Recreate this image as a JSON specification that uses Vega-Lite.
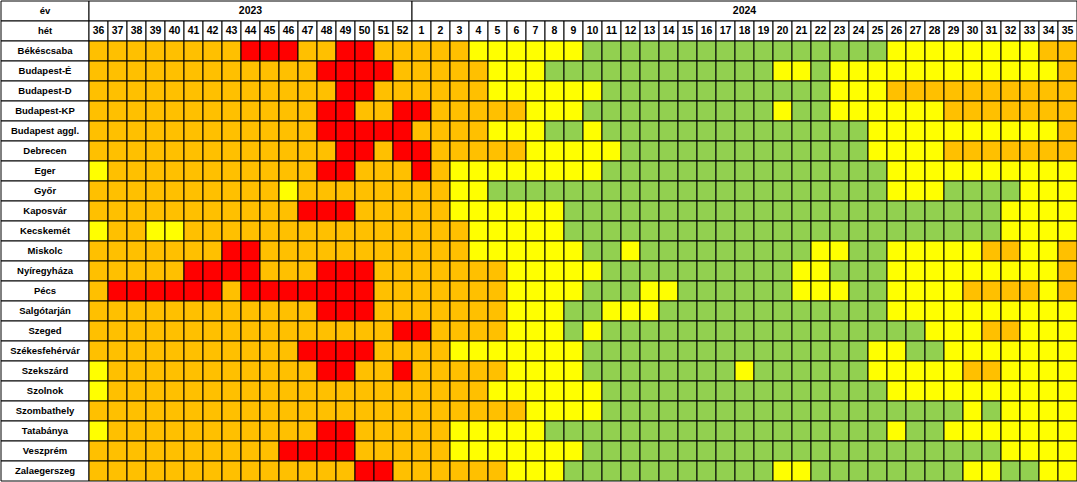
{
"$schema":"https://vega.github.io/schema/vega-lite/v6.json",
"padding":0,"spacing":0,"bounds":"flush",
"config":{"view":{"stroke":null},"font":"Liberation Sans","concat":{"spacing":0}},
"datasets":{
"rows":[{"r":"év"},{"r":"hét"},{"r":"Békéscsaba"},{"r":"Budapest-É"},{"r":"Budapest-D"},{"r":"Budapest-KP"},{"r":"Budapest aggl."},{"r":"Debrecen"},{"r":"Eger"},{"r":"Győr"},{"r":"Kaposvár"},{"r":"Kecskemét"},{"r":"Miskolc"},{"r":"Nyíregyháza"},{"r":"Pécs"},{"r":"Salgótarján"},{"r":"Szeged"},{"r":"Székesfehérvár"},{"r":"Szekszárd"},{"r":"Szolnok"},{"r":"Szombathely"},{"r":"Tatabánya"},{"r":"Veszprém"},{"r":"Zalaegerszeg"}],
"years":[{"yr":"2023","from":"36","to":"52","mid":"44","r":"év"},{"yr":"2024","from":"1","to":"35","mid":"18","r":"év"}],
"weeks":[{"w":"36","r":"hét"},{"w":"37","r":"hét"},{"w":"38","r":"hét"},{"w":"39","r":"hét"},{"w":"40","r":"hét"},{"w":"41","r":"hét"},{"w":"42","r":"hét"},{"w":"43","r":"hét"},{"w":"44","r":"hét"},{"w":"45","r":"hét"},{"w":"46","r":"hét"},{"w":"47","r":"hét"},{"w":"48","r":"hét"},{"w":"49","r":"hét"},{"w":"50","r":"hét"},{"w":"51","r":"hét"},{"w":"52","r":"hét"},{"w":"1","r":"hét"},{"w":"2","r":"hét"},{"w":"3","r":"hét"},{"w":"4","r":"hét"},{"w":"5","r":"hét"},{"w":"6","r":"hét"},{"w":"7","r":"hét"},{"w":"8","r":"hét"},{"w":"9","r":"hét"},{"w":"10","r":"hét"},{"w":"11","r":"hét"},{"w":"12","r":"hét"},{"w":"13","r":"hét"},{"w":"14","r":"hét"},{"w":"15","r":"hét"},{"w":"16","r":"hét"},{"w":"17","r":"hét"},{"w":"18","r":"hét"},{"w":"19","r":"hét"},{"w":"20","r":"hét"},{"w":"21","r":"hét"},{"w":"22","r":"hét"},{"w":"23","r":"hét"},{"w":"24","r":"hét"},{"w":"25","r":"hét"},{"w":"26","r":"hét"},{"w":"27","r":"hét"},{"w":"28","r":"hét"},{"w":"29","r":"hét"},{"w":"30","r":"hét"},{"w":"31","r":"hét"},{"w":"32","r":"hét"},{"w":"33","r":"hét"},{"w":"34","r":"hét"},{"w":"35","r":"hét"}],
"cells":[
{"c":"Békéscsaba","w":"36","s":"O"},{"c":"Békéscsaba","w":"37","s":"O"},{"c":"Békéscsaba","w":"38","s":"O"},{"c":"Békéscsaba","w":"39","s":"O"},{"c":"Békéscsaba","w":"40","s":"O"},{"c":"Békéscsaba","w":"41","s":"O"},{"c":"Békéscsaba","w":"42","s":"O"},{"c":"Békéscsaba","w":"43","s":"O"},{"c":"Békéscsaba","w":"44","s":"R"},{"c":"Békéscsaba","w":"45","s":"R"},{"c":"Békéscsaba","w":"46","s":"R"},{"c":"Békéscsaba","w":"47","s":"O"},{"c":"Békéscsaba","w":"48","s":"O"},{"c":"Békéscsaba","w":"49","s":"R"},{"c":"Békéscsaba","w":"50","s":"R"},{"c":"Békéscsaba","w":"51","s":"O"},{"c":"Békéscsaba","w":"52","s":"O"},{"c":"Békéscsaba","w":"1","s":"O"},{"c":"Békéscsaba","w":"2","s":"O"},{"c":"Békéscsaba","w":"3","s":"O"},{"c":"Békéscsaba","w":"4","s":"Y"},{"c":"Békéscsaba","w":"5","s":"Y"},{"c":"Békéscsaba","w":"6","s":"Y"},{"c":"Békéscsaba","w":"7","s":"Y"},{"c":"Békéscsaba","w":"8","s":"Y"},{"c":"Békéscsaba","w":"9","s":"Y"},{"c":"Békéscsaba","w":"10","s":"G"},{"c":"Békéscsaba","w":"11","s":"G"},{"c":"Békéscsaba","w":"12","s":"G"},{"c":"Békéscsaba","w":"13","s":"G"},{"c":"Békéscsaba","w":"14","s":"G"},{"c":"Békéscsaba","w":"15","s":"G"},{"c":"Békéscsaba","w":"16","s":"G"},{"c":"Békéscsaba","w":"17","s":"G"},{"c":"Békéscsaba","w":"18","s":"G"},{"c":"Békéscsaba","w":"19","s":"G"},{"c":"Békéscsaba","w":"20","s":"G"},{"c":"Békéscsaba","w":"21","s":"G"},{"c":"Békéscsaba","w":"22","s":"G"},{"c":"Békéscsaba","w":"23","s":"G"},{"c":"Békéscsaba","w":"24","s":"G"},{"c":"Békéscsaba","w":"25","s":"G"},{"c":"Békéscsaba","w":"26","s":"Y"},{"c":"Békéscsaba","w":"27","s":"Y"},{"c":"Békéscsaba","w":"28","s":"Y"},{"c":"Békéscsaba","w":"29","s":"Y"},{"c":"Békéscsaba","w":"30","s":"Y"},{"c":"Békéscsaba","w":"31","s":"Y"},{"c":"Békéscsaba","w":"32","s":"Y"},{"c":"Békéscsaba","w":"33","s":"Y"},{"c":"Békéscsaba","w":"34","s":"O"},{"c":"Békéscsaba","w":"35","s":"O"},
{"c":"Budapest-É","w":"36","s":"O"},{"c":"Budapest-É","w":"37","s":"O"},{"c":"Budapest-É","w":"38","s":"O"},{"c":"Budapest-É","w":"39","s":"O"},{"c":"Budapest-É","w":"40","s":"O"},{"c":"Budapest-É","w":"41","s":"O"},{"c":"Budapest-É","w":"42","s":"O"},{"c":"Budapest-É","w":"43","s":"O"},{"c":"Budapest-É","w":"44","s":"O"},{"c":"Budapest-É","w":"45","s":"O"},{"c":"Budapest-É","w":"46","s":"O"},{"c":"Budapest-É","w":"47","s":"O"},{"c":"Budapest-É","w":"48","s":"R"},{"c":"Budapest-É","w":"49","s":"R"},{"c":"Budapest-É","w":"50","s":"R"},{"c":"Budapest-É","w":"51","s":"R"},{"c":"Budapest-É","w":"52","s":"O"},{"c":"Budapest-É","w":"1","s":"O"},{"c":"Budapest-É","w":"2","s":"O"},{"c":"Budapest-É","w":"3","s":"O"},{"c":"Budapest-É","w":"4","s":"O"},{"c":"Budapest-É","w":"5","s":"Y"},{"c":"Budapest-É","w":"6","s":"Y"},{"c":"Budapest-É","w":"7","s":"Y"},{"c":"Budapest-É","w":"8","s":"G"},{"c":"Budapest-É","w":"9","s":"G"},{"c":"Budapest-É","w":"10","s":"G"},{"c":"Budapest-É","w":"11","s":"G"},{"c":"Budapest-É","w":"12","s":"G"},{"c":"Budapest-É","w":"13","s":"G"},{"c":"Budapest-É","w":"14","s":"G"},{"c":"Budapest-É","w":"15","s":"G"},{"c":"Budapest-É","w":"16","s":"G"},{"c":"Budapest-É","w":"17","s":"G"},{"c":"Budapest-É","w":"18","s":"G"},{"c":"Budapest-É","w":"19","s":"G"},{"c":"Budapest-É","w":"20","s":"Y"},{"c":"Budapest-É","w":"21","s":"Y"},{"c":"Budapest-É","w":"22","s":"G"},{"c":"Budapest-É","w":"23","s":"Y"},{"c":"Budapest-É","w":"24","s":"Y"},{"c":"Budapest-É","w":"25","s":"Y"},{"c":"Budapest-É","w":"26","s":"Y"},{"c":"Budapest-É","w":"27","s":"Y"},{"c":"Budapest-É","w":"28","s":"Y"},{"c":"Budapest-É","w":"29","s":"Y"},{"c":"Budapest-É","w":"30","s":"Y"},{"c":"Budapest-É","w":"31","s":"Y"},{"c":"Budapest-É","w":"32","s":"Y"},{"c":"Budapest-É","w":"33","s":"Y"},{"c":"Budapest-É","w":"34","s":"Y"},{"c":"Budapest-É","w":"35","s":"O"},
{"c":"Budapest-D","w":"36","s":"O"},{"c":"Budapest-D","w":"37","s":"O"},{"c":"Budapest-D","w":"38","s":"O"},{"c":"Budapest-D","w":"39","s":"O"},{"c":"Budapest-D","w":"40","s":"O"},{"c":"Budapest-D","w":"41","s":"O"},{"c":"Budapest-D","w":"42","s":"O"},{"c":"Budapest-D","w":"43","s":"O"},{"c":"Budapest-D","w":"44","s":"O"},{"c":"Budapest-D","w":"45","s":"O"},{"c":"Budapest-D","w":"46","s":"O"},{"c":"Budapest-D","w":"47","s":"O"},{"c":"Budapest-D","w":"48","s":"O"},{"c":"Budapest-D","w":"49","s":"R"},{"c":"Budapest-D","w":"50","s":"R"},{"c":"Budapest-D","w":"51","s":"O"},{"c":"Budapest-D","w":"52","s":"O"},{"c":"Budapest-D","w":"1","s":"O"},{"c":"Budapest-D","w":"2","s":"O"},{"c":"Budapest-D","w":"3","s":"O"},{"c":"Budapest-D","w":"4","s":"O"},{"c":"Budapest-D","w":"5","s":"Y"},{"c":"Budapest-D","w":"6","s":"Y"},{"c":"Budapest-D","w":"7","s":"Y"},{"c":"Budapest-D","w":"8","s":"Y"},{"c":"Budapest-D","w":"9","s":"Y"},{"c":"Budapest-D","w":"10","s":"Y"},{"c":"Budapest-D","w":"11","s":"G"},{"c":"Budapest-D","w":"12","s":"G"},{"c":"Budapest-D","w":"13","s":"G"},{"c":"Budapest-D","w":"14","s":"G"},{"c":"Budapest-D","w":"15","s":"G"},{"c":"Budapest-D","w":"16","s":"G"},{"c":"Budapest-D","w":"17","s":"G"},{"c":"Budapest-D","w":"18","s":"G"},{"c":"Budapest-D","w":"19","s":"G"},{"c":"Budapest-D","w":"20","s":"G"},{"c":"Budapest-D","w":"21","s":"G"},{"c":"Budapest-D","w":"22","s":"G"},{"c":"Budapest-D","w":"23","s":"Y"},{"c":"Budapest-D","w":"24","s":"Y"},{"c":"Budapest-D","w":"25","s":"Y"},{"c":"Budapest-D","w":"26","s":"O"},{"c":"Budapest-D","w":"27","s":"O"},{"c":"Budapest-D","w":"28","s":"O"},{"c":"Budapest-D","w":"29","s":"O"},{"c":"Budapest-D","w":"30","s":"O"},{"c":"Budapest-D","w":"31","s":"O"},{"c":"Budapest-D","w":"32","s":"O"},{"c":"Budapest-D","w":"33","s":"O"},{"c":"Budapest-D","w":"34","s":"O"},{"c":"Budapest-D","w":"35","s":"O"},
{"c":"Budapest-KP","w":"36","s":"O"},{"c":"Budapest-KP","w":"37","s":"O"},{"c":"Budapest-KP","w":"38","s":"O"},{"c":"Budapest-KP","w":"39","s":"O"},{"c":"Budapest-KP","w":"40","s":"O"},{"c":"Budapest-KP","w":"41","s":"O"},{"c":"Budapest-KP","w":"42","s":"O"},{"c":"Budapest-KP","w":"43","s":"O"},{"c":"Budapest-KP","w":"44","s":"O"},{"c":"Budapest-KP","w":"45","s":"O"},{"c":"Budapest-KP","w":"46","s":"O"},{"c":"Budapest-KP","w":"47","s":"O"},{"c":"Budapest-KP","w":"48","s":"R"},{"c":"Budapest-KP","w":"49","s":"R"},{"c":"Budapest-KP","w":"50","s":"O"},{"c":"Budapest-KP","w":"51","s":"O"},{"c":"Budapest-KP","w":"52","s":"R"},{"c":"Budapest-KP","w":"1","s":"R"},{"c":"Budapest-KP","w":"2","s":"O"},{"c":"Budapest-KP","w":"3","s":"O"},{"c":"Budapest-KP","w":"4","s":"O"},{"c":"Budapest-KP","w":"5","s":"O"},{"c":"Budapest-KP","w":"6","s":"O"},{"c":"Budapest-KP","w":"7","s":"Y"},{"c":"Budapest-KP","w":"8","s":"Y"},{"c":"Budapest-KP","w":"9","s":"Y"},{"c":"Budapest-KP","w":"10","s":"G"},{"c":"Budapest-KP","w":"11","s":"G"},{"c":"Budapest-KP","w":"12","s":"G"},{"c":"Budapest-KP","w":"13","s":"G"},{"c":"Budapest-KP","w":"14","s":"G"},{"c":"Budapest-KP","w":"15","s":"G"},{"c":"Budapest-KP","w":"16","s":"G"},{"c":"Budapest-KP","w":"17","s":"G"},{"c":"Budapest-KP","w":"18","s":"G"},{"c":"Budapest-KP","w":"19","s":"G"},{"c":"Budapest-KP","w":"20","s":"Y"},{"c":"Budapest-KP","w":"21","s":"G"},{"c":"Budapest-KP","w":"22","s":"G"},{"c":"Budapest-KP","w":"23","s":"Y"},{"c":"Budapest-KP","w":"24","s":"Y"},{"c":"Budapest-KP","w":"25","s":"Y"},{"c":"Budapest-KP","w":"26","s":"Y"},{"c":"Budapest-KP","w":"27","s":"Y"},{"c":"Budapest-KP","w":"28","s":"Y"},{"c":"Budapest-KP","w":"29","s":"O"},{"c":"Budapest-KP","w":"30","s":"O"},{"c":"Budapest-KP","w":"31","s":"O"},{"c":"Budapest-KP","w":"32","s":"O"},{"c":"Budapest-KP","w":"33","s":"O"},{"c":"Budapest-KP","w":"34","s":"O"},{"c":"Budapest-KP","w":"35","s":"O"},
{"c":"Budapest aggl.","w":"36","s":"O"},{"c":"Budapest aggl.","w":"37","s":"O"},{"c":"Budapest aggl.","w":"38","s":"O"},{"c":"Budapest aggl.","w":"39","s":"O"},{"c":"Budapest aggl.","w":"40","s":"O"},{"c":"Budapest aggl.","w":"41","s":"O"},{"c":"Budapest aggl.","w":"42","s":"O"},{"c":"Budapest aggl.","w":"43","s":"O"},{"c":"Budapest aggl.","w":"44","s":"O"},{"c":"Budapest aggl.","w":"45","s":"O"},{"c":"Budapest aggl.","w":"46","s":"O"},{"c":"Budapest aggl.","w":"47","s":"O"},{"c":"Budapest aggl.","w":"48","s":"R"},{"c":"Budapest aggl.","w":"49","s":"R"},{"c":"Budapest aggl.","w":"50","s":"R"},{"c":"Budapest aggl.","w":"51","s":"R"},{"c":"Budapest aggl.","w":"52","s":"R"},{"c":"Budapest aggl.","w":"1","s":"O"},{"c":"Budapest aggl.","w":"2","s":"O"},{"c":"Budapest aggl.","w":"3","s":"O"},{"c":"Budapest aggl.","w":"4","s":"O"},{"c":"Budapest aggl.","w":"5","s":"Y"},{"c":"Budapest aggl.","w":"6","s":"Y"},{"c":"Budapest aggl.","w":"7","s":"Y"},{"c":"Budapest aggl.","w":"8","s":"G"},{"c":"Budapest aggl.","w":"9","s":"G"},{"c":"Budapest aggl.","w":"10","s":"Y"},{"c":"Budapest aggl.","w":"11","s":"G"},{"c":"Budapest aggl.","w":"12","s":"G"},{"c":"Budapest aggl.","w":"13","s":"G"},{"c":"Budapest aggl.","w":"14","s":"G"},{"c":"Budapest aggl.","w":"15","s":"G"},{"c":"Budapest aggl.","w":"16","s":"G"},{"c":"Budapest aggl.","w":"17","s":"G"},{"c":"Budapest aggl.","w":"18","s":"G"},{"c":"Budapest aggl.","w":"19","s":"G"},{"c":"Budapest aggl.","w":"20","s":"G"},{"c":"Budapest aggl.","w":"21","s":"G"},{"c":"Budapest aggl.","w":"22","s":"G"},{"c":"Budapest aggl.","w":"23","s":"G"},{"c":"Budapest aggl.","w":"24","s":"G"},{"c":"Budapest aggl.","w":"25","s":"Y"},{"c":"Budapest aggl.","w":"26","s":"Y"},{"c":"Budapest aggl.","w":"27","s":"Y"},{"c":"Budapest aggl.","w":"28","s":"Y"},{"c":"Budapest aggl.","w":"29","s":"Y"},{"c":"Budapest aggl.","w":"30","s":"Y"},{"c":"Budapest aggl.","w":"31","s":"Y"},{"c":"Budapest aggl.","w":"32","s":"Y"},{"c":"Budapest aggl.","w":"33","s":"Y"},{"c":"Budapest aggl.","w":"34","s":"Y"},{"c":"Budapest aggl.","w":"35","s":"O"},
{"c":"Debrecen","w":"36","s":"O"},{"c":"Debrecen","w":"37","s":"O"},{"c":"Debrecen","w":"38","s":"O"},{"c":"Debrecen","w":"39","s":"O"},{"c":"Debrecen","w":"40","s":"O"},{"c":"Debrecen","w":"41","s":"O"},{"c":"Debrecen","w":"42","s":"O"},{"c":"Debrecen","w":"43","s":"O"},{"c":"Debrecen","w":"44","s":"O"},{"c":"Debrecen","w":"45","s":"O"},{"c":"Debrecen","w":"46","s":"O"},{"c":"Debrecen","w":"47","s":"O"},{"c":"Debrecen","w":"48","s":"O"},{"c":"Debrecen","w":"49","s":"R"},{"c":"Debrecen","w":"50","s":"R"},{"c":"Debrecen","w":"51","s":"O"},{"c":"Debrecen","w":"52","s":"R"},{"c":"Debrecen","w":"1","s":"R"},{"c":"Debrecen","w":"2","s":"O"},{"c":"Debrecen","w":"3","s":"O"},{"c":"Debrecen","w":"4","s":"O"},{"c":"Debrecen","w":"5","s":"O"},{"c":"Debrecen","w":"6","s":"O"},{"c":"Debrecen","w":"7","s":"Y"},{"c":"Debrecen","w":"8","s":"Y"},{"c":"Debrecen","w":"9","s":"Y"},{"c":"Debrecen","w":"10","s":"Y"},{"c":"Debrecen","w":"11","s":"Y"},{"c":"Debrecen","w":"12","s":"G"},{"c":"Debrecen","w":"13","s":"G"},{"c":"Debrecen","w":"14","s":"G"},{"c":"Debrecen","w":"15","s":"G"},{"c":"Debrecen","w":"16","s":"G"},{"c":"Debrecen","w":"17","s":"G"},{"c":"Debrecen","w":"18","s":"G"},{"c":"Debrecen","w":"19","s":"G"},{"c":"Debrecen","w":"20","s":"G"},{"c":"Debrecen","w":"21","s":"G"},{"c":"Debrecen","w":"22","s":"G"},{"c":"Debrecen","w":"23","s":"G"},{"c":"Debrecen","w":"24","s":"G"},{"c":"Debrecen","w":"25","s":"Y"},{"c":"Debrecen","w":"26","s":"Y"},{"c":"Debrecen","w":"27","s":"Y"},{"c":"Debrecen","w":"28","s":"Y"},{"c":"Debrecen","w":"29","s":"O"},{"c":"Debrecen","w":"30","s":"O"},{"c":"Debrecen","w":"31","s":"O"},{"c":"Debrecen","w":"32","s":"O"},{"c":"Debrecen","w":"33","s":"O"},{"c":"Debrecen","w":"34","s":"O"},{"c":"Debrecen","w":"35","s":"O"},
{"c":"Eger","w":"36","s":"Y"},{"c":"Eger","w":"37","s":"O"},{"c":"Eger","w":"38","s":"O"},{"c":"Eger","w":"39","s":"O"},{"c":"Eger","w":"40","s":"O"},{"c":"Eger","w":"41","s":"O"},{"c":"Eger","w":"42","s":"O"},{"c":"Eger","w":"43","s":"O"},{"c":"Eger","w":"44","s":"O"},{"c":"Eger","w":"45","s":"O"},{"c":"Eger","w":"46","s":"O"},{"c":"Eger","w":"47","s":"O"},{"c":"Eger","w":"48","s":"R"},{"c":"Eger","w":"49","s":"R"},{"c":"Eger","w":"50","s":"O"},{"c":"Eger","w":"51","s":"O"},{"c":"Eger","w":"52","s":"O"},{"c":"Eger","w":"1","s":"R"},{"c":"Eger","w":"2","s":"O"},{"c":"Eger","w":"3","s":"Y"},{"c":"Eger","w":"4","s":"Y"},{"c":"Eger","w":"5","s":"Y"},{"c":"Eger","w":"6","s":"Y"},{"c":"Eger","w":"7","s":"Y"},{"c":"Eger","w":"8","s":"Y"},{"c":"Eger","w":"9","s":"Y"},{"c":"Eger","w":"10","s":"Y"},{"c":"Eger","w":"11","s":"G"},{"c":"Eger","w":"12","s":"G"},{"c":"Eger","w":"13","s":"G"},{"c":"Eger","w":"14","s":"G"},{"c":"Eger","w":"15","s":"G"},{"c":"Eger","w":"16","s":"G"},{"c":"Eger","w":"17","s":"G"},{"c":"Eger","w":"18","s":"G"},{"c":"Eger","w":"19","s":"G"},{"c":"Eger","w":"20","s":"G"},{"c":"Eger","w":"21","s":"G"},{"c":"Eger","w":"22","s":"G"},{"c":"Eger","w":"23","s":"G"},{"c":"Eger","w":"24","s":"G"},{"c":"Eger","w":"25","s":"G"},{"c":"Eger","w":"26","s":"Y"},{"c":"Eger","w":"27","s":"Y"},{"c":"Eger","w":"28","s":"Y"},{"c":"Eger","w":"29","s":"Y"},{"c":"Eger","w":"30","s":"Y"},{"c":"Eger","w":"31","s":"Y"},{"c":"Eger","w":"32","s":"Y"},{"c":"Eger","w":"33","s":"Y"},{"c":"Eger","w":"34","s":"Y"},{"c":"Eger","w":"35","s":"Y"},
{"c":"Győr","w":"36","s":"O"},{"c":"Győr","w":"37","s":"O"},{"c":"Győr","w":"38","s":"O"},{"c":"Győr","w":"39","s":"O"},{"c":"Győr","w":"40","s":"O"},{"c":"Győr","w":"41","s":"O"},{"c":"Győr","w":"42","s":"O"},{"c":"Győr","w":"43","s":"O"},{"c":"Győr","w":"44","s":"O"},{"c":"Győr","w":"45","s":"O"},{"c":"Győr","w":"46","s":"Y"},{"c":"Győr","w":"47","s":"O"},{"c":"Győr","w":"48","s":"O"},{"c":"Győr","w":"49","s":"O"},{"c":"Győr","w":"50","s":"O"},{"c":"Győr","w":"51","s":"O"},{"c":"Győr","w":"52","s":"O"},{"c":"Győr","w":"1","s":"O"},{"c":"Győr","w":"2","s":"O"},{"c":"Győr","w":"3","s":"Y"},{"c":"Győr","w":"4","s":"Y"},{"c":"Győr","w":"5","s":"G"},{"c":"Győr","w":"6","s":"G"},{"c":"Győr","w":"7","s":"G"},{"c":"Győr","w":"8","s":"G"},{"c":"Győr","w":"9","s":"G"},{"c":"Győr","w":"10","s":"G"},{"c":"Győr","w":"11","s":"G"},{"c":"Győr","w":"12","s":"G"},{"c":"Győr","w":"13","s":"G"},{"c":"Győr","w":"14","s":"G"},{"c":"Győr","w":"15","s":"G"},{"c":"Győr","w":"16","s":"G"},{"c":"Győr","w":"17","s":"G"},{"c":"Győr","w":"18","s":"G"},{"c":"Győr","w":"19","s":"G"},{"c":"Győr","w":"20","s":"G"},{"c":"Győr","w":"21","s":"G"},{"c":"Győr","w":"22","s":"G"},{"c":"Győr","w":"23","s":"G"},{"c":"Győr","w":"24","s":"G"},{"c":"Győr","w":"25","s":"G"},{"c":"Győr","w":"26","s":"Y"},{"c":"Győr","w":"27","s":"Y"},{"c":"Győr","w":"28","s":"Y"},{"c":"Győr","w":"29","s":"G"},{"c":"Győr","w":"30","s":"G"},{"c":"Győr","w":"31","s":"G"},{"c":"Győr","w":"32","s":"G"},{"c":"Győr","w":"33","s":"Y"},{"c":"Győr","w":"34","s":"Y"},{"c":"Győr","w":"35","s":"Y"},
{"c":"Kaposvár","w":"36","s":"O"},{"c":"Kaposvár","w":"37","s":"O"},{"c":"Kaposvár","w":"38","s":"O"},{"c":"Kaposvár","w":"39","s":"O"},{"c":"Kaposvár","w":"40","s":"O"},{"c":"Kaposvár","w":"41","s":"O"},{"c":"Kaposvár","w":"42","s":"O"},{"c":"Kaposvár","w":"43","s":"O"},{"c":"Kaposvár","w":"44","s":"O"},{"c":"Kaposvár","w":"45","s":"O"},{"c":"Kaposvár","w":"46","s":"O"},{"c":"Kaposvár","w":"47","s":"R"},{"c":"Kaposvár","w":"48","s":"R"},{"c":"Kaposvár","w":"49","s":"R"},{"c":"Kaposvár","w":"50","s":"O"},{"c":"Kaposvár","w":"51","s":"O"},{"c":"Kaposvár","w":"52","s":"O"},{"c":"Kaposvár","w":"1","s":"O"},{"c":"Kaposvár","w":"2","s":"O"},{"c":"Kaposvár","w":"3","s":"Y"},{"c":"Kaposvár","w":"4","s":"Y"},{"c":"Kaposvár","w":"5","s":"Y"},{"c":"Kaposvár","w":"6","s":"Y"},{"c":"Kaposvár","w":"7","s":"Y"},{"c":"Kaposvár","w":"8","s":"Y"},{"c":"Kaposvár","w":"9","s":"G"},{"c":"Kaposvár","w":"10","s":"G"},{"c":"Kaposvár","w":"11","s":"G"},{"c":"Kaposvár","w":"12","s":"G"},{"c":"Kaposvár","w":"13","s":"G"},{"c":"Kaposvár","w":"14","s":"G"},{"c":"Kaposvár","w":"15","s":"G"},{"c":"Kaposvár","w":"16","s":"G"},{"c":"Kaposvár","w":"17","s":"G"},{"c":"Kaposvár","w":"18","s":"G"},{"c":"Kaposvár","w":"19","s":"G"},{"c":"Kaposvár","w":"20","s":"G"},{"c":"Kaposvár","w":"21","s":"G"},{"c":"Kaposvár","w":"22","s":"G"},{"c":"Kaposvár","w":"23","s":"G"},{"c":"Kaposvár","w":"24","s":"G"},{"c":"Kaposvár","w":"25","s":"G"},{"c":"Kaposvár","w":"26","s":"G"},{"c":"Kaposvár","w":"27","s":"G"},{"c":"Kaposvár","w":"28","s":"G"},{"c":"Kaposvár","w":"29","s":"G"},{"c":"Kaposvár","w":"30","s":"G"},{"c":"Kaposvár","w":"31","s":"G"},{"c":"Kaposvár","w":"32","s":"Y"},{"c":"Kaposvár","w":"33","s":"Y"},{"c":"Kaposvár","w":"34","s":"Y"},{"c":"Kaposvár","w":"35","s":"Y"},
{"c":"Kecskemét","w":"36","s":"Y"},{"c":"Kecskemét","w":"37","s":"O"},{"c":"Kecskemét","w":"38","s":"O"},{"c":"Kecskemét","w":"39","s":"Y"},{"c":"Kecskemét","w":"40","s":"Y"},{"c":"Kecskemét","w":"41","s":"O"},{"c":"Kecskemét","w":"42","s":"O"},{"c":"Kecskemét","w":"43","s":"O"},{"c":"Kecskemét","w":"44","s":"O"},{"c":"Kecskemét","w":"45","s":"O"},{"c":"Kecskemét","w":"46","s":"O"},{"c":"Kecskemét","w":"47","s":"O"},{"c":"Kecskemét","w":"48","s":"O"},{"c":"Kecskemét","w":"49","s":"O"},{"c":"Kecskemét","w":"50","s":"O"},{"c":"Kecskemét","w":"51","s":"O"},{"c":"Kecskemét","w":"52","s":"O"},{"c":"Kecskemét","w":"1","s":"O"},{"c":"Kecskemét","w":"2","s":"O"},{"c":"Kecskemét","w":"3","s":"O"},{"c":"Kecskemét","w":"4","s":"Y"},{"c":"Kecskemét","w":"5","s":"Y"},{"c":"Kecskemét","w":"6","s":"Y"},{"c":"Kecskemét","w":"7","s":"Y"},{"c":"Kecskemét","w":"8","s":"Y"},{"c":"Kecskemét","w":"9","s":"G"},{"c":"Kecskemét","w":"10","s":"G"},{"c":"Kecskemét","w":"11","s":"G"},{"c":"Kecskemét","w":"12","s":"G"},{"c":"Kecskemét","w":"13","s":"G"},{"c":"Kecskemét","w":"14","s":"G"},{"c":"Kecskemét","w":"15","s":"G"},{"c":"Kecskemét","w":"16","s":"G"},{"c":"Kecskemét","w":"17","s":"G"},{"c":"Kecskemét","w":"18","s":"G"},{"c":"Kecskemét","w":"19","s":"G"},{"c":"Kecskemét","w":"20","s":"G"},{"c":"Kecskemét","w":"21","s":"G"},{"c":"Kecskemét","w":"22","s":"G"},{"c":"Kecskemét","w":"23","s":"G"},{"c":"Kecskemét","w":"24","s":"G"},{"c":"Kecskemét","w":"25","s":"G"},{"c":"Kecskemét","w":"26","s":"G"},{"c":"Kecskemét","w":"27","s":"G"},{"c":"Kecskemét","w":"28","s":"G"},{"c":"Kecskemét","w":"29","s":"G"},{"c":"Kecskemét","w":"30","s":"G"},{"c":"Kecskemét","w":"31","s":"G"},{"c":"Kecskemét","w":"32","s":"Y"},{"c":"Kecskemét","w":"33","s":"Y"},{"c":"Kecskemét","w":"34","s":"Y"},{"c":"Kecskemét","w":"35","s":"Y"},
{"c":"Miskolc","w":"36","s":"O"},{"c":"Miskolc","w":"37","s":"O"},{"c":"Miskolc","w":"38","s":"O"},{"c":"Miskolc","w":"39","s":"O"},{"c":"Miskolc","w":"40","s":"O"},{"c":"Miskolc","w":"41","s":"O"},{"c":"Miskolc","w":"42","s":"O"},{"c":"Miskolc","w":"43","s":"R"},{"c":"Miskolc","w":"44","s":"R"},{"c":"Miskolc","w":"45","s":"O"},{"c":"Miskolc","w":"46","s":"O"},{"c":"Miskolc","w":"47","s":"O"},{"c":"Miskolc","w":"48","s":"O"},{"c":"Miskolc","w":"49","s":"O"},{"c":"Miskolc","w":"50","s":"O"},{"c":"Miskolc","w":"51","s":"O"},{"c":"Miskolc","w":"52","s":"O"},{"c":"Miskolc","w":"1","s":"O"},{"c":"Miskolc","w":"2","s":"O"},{"c":"Miskolc","w":"3","s":"O"},{"c":"Miskolc","w":"4","s":"Y"},{"c":"Miskolc","w":"5","s":"Y"},{"c":"Miskolc","w":"6","s":"Y"},{"c":"Miskolc","w":"7","s":"Y"},{"c":"Miskolc","w":"8","s":"Y"},{"c":"Miskolc","w":"9","s":"Y"},{"c":"Miskolc","w":"10","s":"G"},{"c":"Miskolc","w":"11","s":"G"},{"c":"Miskolc","w":"12","s":"Y"},{"c":"Miskolc","w":"13","s":"G"},{"c":"Miskolc","w":"14","s":"G"},{"c":"Miskolc","w":"15","s":"G"},{"c":"Miskolc","w":"16","s":"G"},{"c":"Miskolc","w":"17","s":"G"},{"c":"Miskolc","w":"18","s":"G"},{"c":"Miskolc","w":"19","s":"G"},{"c":"Miskolc","w":"20","s":"G"},{"c":"Miskolc","w":"21","s":"G"},{"c":"Miskolc","w":"22","s":"Y"},{"c":"Miskolc","w":"23","s":"Y"},{"c":"Miskolc","w":"24","s":"G"},{"c":"Miskolc","w":"25","s":"G"},{"c":"Miskolc","w":"26","s":"Y"},{"c":"Miskolc","w":"27","s":"Y"},{"c":"Miskolc","w":"28","s":"Y"},{"c":"Miskolc","w":"29","s":"Y"},{"c":"Miskolc","w":"30","s":"Y"},{"c":"Miskolc","w":"31","s":"O"},{"c":"Miskolc","w":"32","s":"O"},{"c":"Miskolc","w":"33","s":"Y"},{"c":"Miskolc","w":"34","s":"Y"},{"c":"Miskolc","w":"35","s":"O"},
{"c":"Nyíregyháza","w":"36","s":"O"},{"c":"Nyíregyháza","w":"37","s":"O"},{"c":"Nyíregyháza","w":"38","s":"O"},{"c":"Nyíregyháza","w":"39","s":"O"},{"c":"Nyíregyháza","w":"40","s":"O"},{"c":"Nyíregyháza","w":"41","s":"R"},{"c":"Nyíregyháza","w":"42","s":"R"},{"c":"Nyíregyháza","w":"43","s":"R"},{"c":"Nyíregyháza","w":"44","s":"R"},{"c":"Nyíregyháza","w":"45","s":"O"},{"c":"Nyíregyháza","w":"46","s":"O"},{"c":"Nyíregyháza","w":"47","s":"O"},{"c":"Nyíregyháza","w":"48","s":"R"},{"c":"Nyíregyháza","w":"49","s":"R"},{"c":"Nyíregyháza","w":"50","s":"R"},{"c":"Nyíregyháza","w":"51","s":"O"},{"c":"Nyíregyháza","w":"52","s":"O"},{"c":"Nyíregyháza","w":"1","s":"O"},{"c":"Nyíregyháza","w":"2","s":"O"},{"c":"Nyíregyháza","w":"3","s":"O"},{"c":"Nyíregyháza","w":"4","s":"O"},{"c":"Nyíregyháza","w":"5","s":"O"},{"c":"Nyíregyháza","w":"6","s":"Y"},{"c":"Nyíregyháza","w":"7","s":"Y"},{"c":"Nyíregyháza","w":"8","s":"Y"},{"c":"Nyíregyháza","w":"9","s":"Y"},{"c":"Nyíregyháza","w":"10","s":"Y"},{"c":"Nyíregyháza","w":"11","s":"G"},{"c":"Nyíregyháza","w":"12","s":"G"},{"c":"Nyíregyháza","w":"13","s":"G"},{"c":"Nyíregyháza","w":"14","s":"G"},{"c":"Nyíregyháza","w":"15","s":"G"},{"c":"Nyíregyháza","w":"16","s":"G"},{"c":"Nyíregyháza","w":"17","s":"G"},{"c":"Nyíregyháza","w":"18","s":"G"},{"c":"Nyíregyháza","w":"19","s":"G"},{"c":"Nyíregyháza","w":"20","s":"G"},{"c":"Nyíregyháza","w":"21","s":"Y"},{"c":"Nyíregyháza","w":"22","s":"Y"},{"c":"Nyíregyháza","w":"23","s":"G"},{"c":"Nyíregyháza","w":"24","s":"G"},{"c":"Nyíregyháza","w":"25","s":"G"},{"c":"Nyíregyháza","w":"26","s":"Y"},{"c":"Nyíregyháza","w":"27","s":"Y"},{"c":"Nyíregyháza","w":"28","s":"Y"},{"c":"Nyíregyháza","w":"29","s":"Y"},{"c":"Nyíregyháza","w":"30","s":"Y"},{"c":"Nyíregyháza","w":"31","s":"Y"},{"c":"Nyíregyháza","w":"32","s":"Y"},{"c":"Nyíregyháza","w":"33","s":"Y"},{"c":"Nyíregyháza","w":"34","s":"Y"},{"c":"Nyíregyháza","w":"35","s":"O"},
{"c":"Pécs","w":"36","s":"O"},{"c":"Pécs","w":"37","s":"R"},{"c":"Pécs","w":"38","s":"R"},{"c":"Pécs","w":"39","s":"R"},{"c":"Pécs","w":"40","s":"R"},{"c":"Pécs","w":"41","s":"R"},{"c":"Pécs","w":"42","s":"R"},{"c":"Pécs","w":"43","s":"O"},{"c":"Pécs","w":"44","s":"R"},{"c":"Pécs","w":"45","s":"R"},{"c":"Pécs","w":"46","s":"R"},{"c":"Pécs","w":"47","s":"R"},{"c":"Pécs","w":"48","s":"R"},{"c":"Pécs","w":"49","s":"R"},{"c":"Pécs","w":"50","s":"R"},{"c":"Pécs","w":"51","s":"O"},{"c":"Pécs","w":"52","s":"O"},{"c":"Pécs","w":"1","s":"O"},{"c":"Pécs","w":"2","s":"O"},{"c":"Pécs","w":"3","s":"O"},{"c":"Pécs","w":"4","s":"O"},{"c":"Pécs","w":"5","s":"O"},{"c":"Pécs","w":"6","s":"Y"},{"c":"Pécs","w":"7","s":"Y"},{"c":"Pécs","w":"8","s":"Y"},{"c":"Pécs","w":"9","s":"Y"},{"c":"Pécs","w":"10","s":"G"},{"c":"Pécs","w":"11","s":"G"},{"c":"Pécs","w":"12","s":"G"},{"c":"Pécs","w":"13","s":"Y"},{"c":"Pécs","w":"14","s":"Y"},{"c":"Pécs","w":"15","s":"G"},{"c":"Pécs","w":"16","s":"G"},{"c":"Pécs","w":"17","s":"G"},{"c":"Pécs","w":"18","s":"G"},{"c":"Pécs","w":"19","s":"G"},{"c":"Pécs","w":"20","s":"G"},{"c":"Pécs","w":"21","s":"Y"},{"c":"Pécs","w":"22","s":"Y"},{"c":"Pécs","w":"23","s":"Y"},{"c":"Pécs","w":"24","s":"G"},{"c":"Pécs","w":"25","s":"G"},{"c":"Pécs","w":"26","s":"Y"},{"c":"Pécs","w":"27","s":"Y"},{"c":"Pécs","w":"28","s":"Y"},{"c":"Pécs","w":"29","s":"Y"},{"c":"Pécs","w":"30","s":"O"},{"c":"Pécs","w":"31","s":"O"},{"c":"Pécs","w":"32","s":"O"},{"c":"Pécs","w":"33","s":"O"},{"c":"Pécs","w":"34","s":"Y"},{"c":"Pécs","w":"35","s":"O"},
{"c":"Salgótarján","w":"36","s":"O"},{"c":"Salgótarján","w":"37","s":"O"},{"c":"Salgótarján","w":"38","s":"O"},{"c":"Salgótarján","w":"39","s":"O"},{"c":"Salgótarján","w":"40","s":"O"},{"c":"Salgótarján","w":"41","s":"O"},{"c":"Salgótarján","w":"42","s":"O"},{"c":"Salgótarján","w":"43","s":"O"},{"c":"Salgótarján","w":"44","s":"O"},{"c":"Salgótarján","w":"45","s":"O"},{"c":"Salgótarján","w":"46","s":"O"},{"c":"Salgótarján","w":"47","s":"O"},{"c":"Salgótarján","w":"48","s":"R"},{"c":"Salgótarján","w":"49","s":"R"},{"c":"Salgótarján","w":"50","s":"R"},{"c":"Salgótarján","w":"51","s":"O"},{"c":"Salgótarján","w":"52","s":"O"},{"c":"Salgótarján","w":"1","s":"O"},{"c":"Salgótarján","w":"2","s":"O"},{"c":"Salgótarján","w":"3","s":"O"},{"c":"Salgótarján","w":"4","s":"O"},{"c":"Salgótarján","w":"5","s":"O"},{"c":"Salgótarján","w":"6","s":"Y"},{"c":"Salgótarján","w":"7","s":"Y"},{"c":"Salgótarján","w":"8","s":"Y"},{"c":"Salgótarján","w":"9","s":"G"},{"c":"Salgótarján","w":"10","s":"G"},{"c":"Salgótarján","w":"11","s":"Y"},{"c":"Salgótarján","w":"12","s":"Y"},{"c":"Salgótarján","w":"13","s":"Y"},{"c":"Salgótarján","w":"14","s":"G"},{"c":"Salgótarján","w":"15","s":"G"},{"c":"Salgótarján","w":"16","s":"G"},{"c":"Salgótarján","w":"17","s":"G"},{"c":"Salgótarján","w":"18","s":"G"},{"c":"Salgótarján","w":"19","s":"G"},{"c":"Salgótarján","w":"20","s":"G"},{"c":"Salgótarján","w":"21","s":"G"},{"c":"Salgótarján","w":"22","s":"G"},{"c":"Salgótarján","w":"23","s":"G"},{"c":"Salgótarján","w":"24","s":"G"},{"c":"Salgótarján","w":"25","s":"G"},{"c":"Salgótarján","w":"26","s":"Y"},{"c":"Salgótarján","w":"27","s":"Y"},{"c":"Salgótarján","w":"28","s":"Y"},{"c":"Salgótarján","w":"29","s":"Y"},{"c":"Salgótarján","w":"30","s":"Y"},{"c":"Salgótarján","w":"31","s":"Y"},{"c":"Salgótarján","w":"32","s":"Y"},{"c":"Salgótarján","w":"33","s":"Y"},{"c":"Salgótarján","w":"34","s":"Y"},{"c":"Salgótarján","w":"35","s":"Y"},
{"c":"Szeged","w":"36","s":"O"},{"c":"Szeged","w":"37","s":"O"},{"c":"Szeged","w":"38","s":"O"},{"c":"Szeged","w":"39","s":"O"},{"c":"Szeged","w":"40","s":"O"},{"c":"Szeged","w":"41","s":"O"},{"c":"Szeged","w":"42","s":"O"},{"c":"Szeged","w":"43","s":"O"},{"c":"Szeged","w":"44","s":"O"},{"c":"Szeged","w":"45","s":"O"},{"c":"Szeged","w":"46","s":"O"},{"c":"Szeged","w":"47","s":"O"},{"c":"Szeged","w":"48","s":"O"},{"c":"Szeged","w":"49","s":"O"},{"c":"Szeged","w":"50","s":"O"},{"c":"Szeged","w":"51","s":"O"},{"c":"Szeged","w":"52","s":"R"},{"c":"Szeged","w":"1","s":"R"},{"c":"Szeged","w":"2","s":"O"},{"c":"Szeged","w":"3","s":"O"},{"c":"Szeged","w":"4","s":"O"},{"c":"Szeged","w":"5","s":"O"},{"c":"Szeged","w":"6","s":"Y"},{"c":"Szeged","w":"7","s":"Y"},{"c":"Szeged","w":"8","s":"Y"},{"c":"Szeged","w":"9","s":"G"},{"c":"Szeged","w":"10","s":"Y"},{"c":"Szeged","w":"11","s":"G"},{"c":"Szeged","w":"12","s":"G"},{"c":"Szeged","w":"13","s":"G"},{"c":"Szeged","w":"14","s":"G"},{"c":"Szeged","w":"15","s":"G"},{"c":"Szeged","w":"16","s":"G"},{"c":"Szeged","w":"17","s":"G"},{"c":"Szeged","w":"18","s":"G"},{"c":"Szeged","w":"19","s":"G"},{"c":"Szeged","w":"20","s":"G"},{"c":"Szeged","w":"21","s":"G"},{"c":"Szeged","w":"22","s":"G"},{"c":"Szeged","w":"23","s":"G"},{"c":"Szeged","w":"24","s":"G"},{"c":"Szeged","w":"25","s":"G"},{"c":"Szeged","w":"26","s":"G"},{"c":"Szeged","w":"27","s":"G"},{"c":"Szeged","w":"28","s":"Y"},{"c":"Szeged","w":"29","s":"Y"},{"c":"Szeged","w":"30","s":"Y"},{"c":"Szeged","w":"31","s":"O"},{"c":"Szeged","w":"32","s":"O"},{"c":"Szeged","w":"33","s":"Y"},{"c":"Szeged","w":"34","s":"Y"},{"c":"Szeged","w":"35","s":"Y"},
{"c":"Székesfehérvár","w":"36","s":"O"},{"c":"Székesfehérvár","w":"37","s":"O"},{"c":"Székesfehérvár","w":"38","s":"O"},{"c":"Székesfehérvár","w":"39","s":"O"},{"c":"Székesfehérvár","w":"40","s":"O"},{"c":"Székesfehérvár","w":"41","s":"O"},{"c":"Székesfehérvár","w":"42","s":"O"},{"c":"Székesfehérvár","w":"43","s":"O"},{"c":"Székesfehérvár","w":"44","s":"O"},{"c":"Székesfehérvár","w":"45","s":"O"},{"c":"Székesfehérvár","w":"46","s":"O"},{"c":"Székesfehérvár","w":"47","s":"R"},{"c":"Székesfehérvár","w":"48","s":"R"},{"c":"Székesfehérvár","w":"49","s":"R"},{"c":"Székesfehérvár","w":"50","s":"R"},{"c":"Székesfehérvár","w":"51","s":"O"},{"c":"Székesfehérvár","w":"52","s":"O"},{"c":"Székesfehérvár","w":"1","s":"O"},{"c":"Székesfehérvár","w":"2","s":"O"},{"c":"Székesfehérvár","w":"3","s":"Y"},{"c":"Székesfehérvár","w":"4","s":"Y"},{"c":"Székesfehérvár","w":"5","s":"Y"},{"c":"Székesfehérvár","w":"6","s":"Y"},{"c":"Székesfehérvár","w":"7","s":"Y"},{"c":"Székesfehérvár","w":"8","s":"Y"},{"c":"Székesfehérvár","w":"9","s":"Y"},{"c":"Székesfehérvár","w":"10","s":"G"},{"c":"Székesfehérvár","w":"11","s":"G"},{"c":"Székesfehérvár","w":"12","s":"G"},{"c":"Székesfehérvár","w":"13","s":"G"},{"c":"Székesfehérvár","w":"14","s":"G"},{"c":"Székesfehérvár","w":"15","s":"G"},{"c":"Székesfehérvár","w":"16","s":"G"},{"c":"Székesfehérvár","w":"17","s":"G"},{"c":"Székesfehérvár","w":"18","s":"G"},{"c":"Székesfehérvár","w":"19","s":"G"},{"c":"Székesfehérvár","w":"20","s":"G"},{"c":"Székesfehérvár","w":"21","s":"G"},{"c":"Székesfehérvár","w":"22","s":"G"},{"c":"Székesfehérvár","w":"23","s":"G"},{"c":"Székesfehérvár","w":"24","s":"G"},{"c":"Székesfehérvár","w":"25","s":"Y"},{"c":"Székesfehérvár","w":"26","s":"Y"},{"c":"Székesfehérvár","w":"27","s":"G"},{"c":"Székesfehérvár","w":"28","s":"G"},{"c":"Székesfehérvár","w":"29","s":"Y"},{"c":"Székesfehérvár","w":"30","s":"Y"},{"c":"Székesfehérvár","w":"31","s":"Y"},{"c":"Székesfehérvár","w":"32","s":"Y"},{"c":"Székesfehérvár","w":"33","s":"Y"},{"c":"Székesfehérvár","w":"34","s":"Y"},{"c":"Székesfehérvár","w":"35","s":"Y"},
{"c":"Szekszárd","w":"36","s":"Y"},{"c":"Szekszárd","w":"37","s":"O"},{"c":"Szekszárd","w":"38","s":"O"},{"c":"Szekszárd","w":"39","s":"O"},{"c":"Szekszárd","w":"40","s":"O"},{"c":"Szekszárd","w":"41","s":"O"},{"c":"Szekszárd","w":"42","s":"O"},{"c":"Szekszárd","w":"43","s":"O"},{"c":"Szekszárd","w":"44","s":"O"},{"c":"Szekszárd","w":"45","s":"O"},{"c":"Szekszárd","w":"46","s":"O"},{"c":"Szekszárd","w":"47","s":"O"},{"c":"Szekszárd","w":"48","s":"R"},{"c":"Szekszárd","w":"49","s":"R"},{"c":"Szekszárd","w":"50","s":"O"},{"c":"Szekszárd","w":"51","s":"O"},{"c":"Szekszárd","w":"52","s":"R"},{"c":"Szekszárd","w":"1","s":"O"},{"c":"Szekszárd","w":"2","s":"O"},{"c":"Szekszárd","w":"3","s":"O"},{"c":"Szekszárd","w":"4","s":"O"},{"c":"Szekszárd","w":"5","s":"O"},{"c":"Szekszárd","w":"6","s":"Y"},{"c":"Szekszárd","w":"7","s":"Y"},{"c":"Szekszárd","w":"8","s":"Y"},{"c":"Szekszárd","w":"9","s":"Y"},{"c":"Szekszárd","w":"10","s":"G"},{"c":"Szekszárd","w":"11","s":"G"},{"c":"Szekszárd","w":"12","s":"G"},{"c":"Szekszárd","w":"13","s":"G"},{"c":"Szekszárd","w":"14","s":"G"},{"c":"Szekszárd","w":"15","s":"G"},{"c":"Szekszárd","w":"16","s":"G"},{"c":"Szekszárd","w":"17","s":"G"},{"c":"Szekszárd","w":"18","s":"Y"},{"c":"Szekszárd","w":"19","s":"G"},{"c":"Szekszárd","w":"20","s":"G"},{"c":"Szekszárd","w":"21","s":"G"},{"c":"Szekszárd","w":"22","s":"G"},{"c":"Szekszárd","w":"23","s":"G"},{"c":"Szekszárd","w":"24","s":"G"},{"c":"Szekszárd","w":"25","s":"Y"},{"c":"Szekszárd","w":"26","s":"Y"},{"c":"Szekszárd","w":"27","s":"Y"},{"c":"Szekszárd","w":"28","s":"Y"},{"c":"Szekszárd","w":"29","s":"Y"},{"c":"Szekszárd","w":"30","s":"O"},{"c":"Szekszárd","w":"31","s":"O"},{"c":"Szekszárd","w":"32","s":"Y"},{"c":"Szekszárd","w":"33","s":"Y"},{"c":"Szekszárd","w":"34","s":"Y"},{"c":"Szekszárd","w":"35","s":"Y"},
{"c":"Szolnok","w":"36","s":"Y"},{"c":"Szolnok","w":"37","s":"O"},{"c":"Szolnok","w":"38","s":"O"},{"c":"Szolnok","w":"39","s":"O"},{"c":"Szolnok","w":"40","s":"O"},{"c":"Szolnok","w":"41","s":"O"},{"c":"Szolnok","w":"42","s":"O"},{"c":"Szolnok","w":"43","s":"O"},{"c":"Szolnok","w":"44","s":"O"},{"c":"Szolnok","w":"45","s":"O"},{"c":"Szolnok","w":"46","s":"O"},{"c":"Szolnok","w":"47","s":"O"},{"c":"Szolnok","w":"48","s":"O"},{"c":"Szolnok","w":"49","s":"O"},{"c":"Szolnok","w":"50","s":"O"},{"c":"Szolnok","w":"51","s":"O"},{"c":"Szolnok","w":"52","s":"O"},{"c":"Szolnok","w":"1","s":"O"},{"c":"Szolnok","w":"2","s":"O"},{"c":"Szolnok","w":"3","s":"O"},{"c":"Szolnok","w":"4","s":"O"},{"c":"Szolnok","w":"5","s":"Y"},{"c":"Szolnok","w":"6","s":"Y"},{"c":"Szolnok","w":"7","s":"Y"},{"c":"Szolnok","w":"8","s":"Y"},{"c":"Szolnok","w":"9","s":"Y"},{"c":"Szolnok","w":"10","s":"Y"},{"c":"Szolnok","w":"11","s":"G"},{"c":"Szolnok","w":"12","s":"G"},{"c":"Szolnok","w":"13","s":"G"},{"c":"Szolnok","w":"14","s":"G"},{"c":"Szolnok","w":"15","s":"G"},{"c":"Szolnok","w":"16","s":"G"},{"c":"Szolnok","w":"17","s":"G"},{"c":"Szolnok","w":"18","s":"G"},{"c":"Szolnok","w":"19","s":"G"},{"c":"Szolnok","w":"20","s":"G"},{"c":"Szolnok","w":"21","s":"G"},{"c":"Szolnok","w":"22","s":"G"},{"c":"Szolnok","w":"23","s":"G"},{"c":"Szolnok","w":"24","s":"G"},{"c":"Szolnok","w":"25","s":"G"},{"c":"Szolnok","w":"26","s":"Y"},{"c":"Szolnok","w":"27","s":"Y"},{"c":"Szolnok","w":"28","s":"Y"},{"c":"Szolnok","w":"29","s":"Y"},{"c":"Szolnok","w":"30","s":"Y"},{"c":"Szolnok","w":"31","s":"Y"},{"c":"Szolnok","w":"32","s":"Y"},{"c":"Szolnok","w":"33","s":"Y"},{"c":"Szolnok","w":"34","s":"Y"},{"c":"Szolnok","w":"35","s":"Y"},
{"c":"Szombathely","w":"36","s":"O"},{"c":"Szombathely","w":"37","s":"O"},{"c":"Szombathely","w":"38","s":"O"},{"c":"Szombathely","w":"39","s":"O"},{"c":"Szombathely","w":"40","s":"O"},{"c":"Szombathely","w":"41","s":"O"},{"c":"Szombathely","w":"42","s":"O"},{"c":"Szombathely","w":"43","s":"O"},{"c":"Szombathely","w":"44","s":"O"},{"c":"Szombathely","w":"45","s":"O"},{"c":"Szombathely","w":"46","s":"O"},{"c":"Szombathely","w":"47","s":"O"},{"c":"Szombathely","w":"48","s":"O"},{"c":"Szombathely","w":"49","s":"O"},{"c":"Szombathely","w":"50","s":"O"},{"c":"Szombathely","w":"51","s":"O"},{"c":"Szombathely","w":"52","s":"O"},{"c":"Szombathely","w":"1","s":"O"},{"c":"Szombathely","w":"2","s":"O"},{"c":"Szombathely","w":"3","s":"O"},{"c":"Szombathely","w":"4","s":"O"},{"c":"Szombathely","w":"5","s":"O"},{"c":"Szombathely","w":"6","s":"O"},{"c":"Szombathely","w":"7","s":"Y"},{"c":"Szombathely","w":"8","s":"Y"},{"c":"Szombathely","w":"9","s":"Y"},{"c":"Szombathely","w":"10","s":"Y"},{"c":"Szombathely","w":"11","s":"G"},{"c":"Szombathely","w":"12","s":"G"},{"c":"Szombathely","w":"13","s":"G"},{"c":"Szombathely","w":"14","s":"G"},{"c":"Szombathely","w":"15","s":"G"},{"c":"Szombathely","w":"16","s":"G"},{"c":"Szombathely","w":"17","s":"G"},{"c":"Szombathely","w":"18","s":"G"},{"c":"Szombathely","w":"19","s":"G"},{"c":"Szombathely","w":"20","s":"G"},{"c":"Szombathely","w":"21","s":"G"},{"c":"Szombathely","w":"22","s":"G"},{"c":"Szombathely","w":"23","s":"G"},{"c":"Szombathely","w":"24","s":"G"},{"c":"Szombathely","w":"25","s":"G"},{"c":"Szombathely","w":"26","s":"G"},{"c":"Szombathely","w":"27","s":"G"},{"c":"Szombathely","w":"28","s":"G"},{"c":"Szombathely","w":"29","s":"G"},{"c":"Szombathely","w":"30","s":"Y"},{"c":"Szombathely","w":"31","s":"G"},{"c":"Szombathely","w":"32","s":"Y"},{"c":"Szombathely","w":"33","s":"Y"},{"c":"Szombathely","w":"34","s":"Y"},{"c":"Szombathely","w":"35","s":"Y"},
{"c":"Tatabánya","w":"36","s":"Y"},{"c":"Tatabánya","w":"37","s":"O"},{"c":"Tatabánya","w":"38","s":"O"},{"c":"Tatabánya","w":"39","s":"O"},{"c":"Tatabánya","w":"40","s":"O"},{"c":"Tatabánya","w":"41","s":"O"},{"c":"Tatabánya","w":"42","s":"O"},{"c":"Tatabánya","w":"43","s":"O"},{"c":"Tatabánya","w":"44","s":"O"},{"c":"Tatabánya","w":"45","s":"O"},{"c":"Tatabánya","w":"46","s":"O"},{"c":"Tatabánya","w":"47","s":"O"},{"c":"Tatabánya","w":"48","s":"R"},{"c":"Tatabánya","w":"49","s":"R"},{"c":"Tatabánya","w":"50","s":"O"},{"c":"Tatabánya","w":"51","s":"O"},{"c":"Tatabánya","w":"52","s":"O"},{"c":"Tatabánya","w":"1","s":"O"},{"c":"Tatabánya","w":"2","s":"O"},{"c":"Tatabánya","w":"3","s":"Y"},{"c":"Tatabánya","w":"4","s":"Y"},{"c":"Tatabánya","w":"5","s":"Y"},{"c":"Tatabánya","w":"6","s":"Y"},{"c":"Tatabánya","w":"7","s":"Y"},{"c":"Tatabánya","w":"8","s":"G"},{"c":"Tatabánya","w":"9","s":"G"},{"c":"Tatabánya","w":"10","s":"G"},{"c":"Tatabánya","w":"11","s":"G"},{"c":"Tatabánya","w":"12","s":"G"},{"c":"Tatabánya","w":"13","s":"G"},{"c":"Tatabánya","w":"14","s":"G"},{"c":"Tatabánya","w":"15","s":"G"},{"c":"Tatabánya","w":"16","s":"G"},{"c":"Tatabánya","w":"17","s":"G"},{"c":"Tatabánya","w":"18","s":"G"},{"c":"Tatabánya","w":"19","s":"G"},{"c":"Tatabánya","w":"20","s":"G"},{"c":"Tatabánya","w":"21","s":"G"},{"c":"Tatabánya","w":"22","s":"G"},{"c":"Tatabánya","w":"23","s":"G"},{"c":"Tatabánya","w":"24","s":"G"},{"c":"Tatabánya","w":"25","s":"G"},{"c":"Tatabánya","w":"26","s":"Y"},{"c":"Tatabánya","w":"27","s":"G"},{"c":"Tatabánya","w":"28","s":"G"},{"c":"Tatabánya","w":"29","s":"Y"},{"c":"Tatabánya","w":"30","s":"Y"},{"c":"Tatabánya","w":"31","s":"Y"},{"c":"Tatabánya","w":"32","s":"Y"},{"c":"Tatabánya","w":"33","s":"Y"},{"c":"Tatabánya","w":"34","s":"Y"},{"c":"Tatabánya","w":"35","s":"Y"},
{"c":"Veszprém","w":"36","s":"O"},{"c":"Veszprém","w":"37","s":"O"},{"c":"Veszprém","w":"38","s":"O"},{"c":"Veszprém","w":"39","s":"O"},{"c":"Veszprém","w":"40","s":"O"},{"c":"Veszprém","w":"41","s":"O"},{"c":"Veszprém","w":"42","s":"O"},{"c":"Veszprém","w":"43","s":"O"},{"c":"Veszprém","w":"44","s":"O"},{"c":"Veszprém","w":"45","s":"O"},{"c":"Veszprém","w":"46","s":"R"},{"c":"Veszprém","w":"47","s":"R"},{"c":"Veszprém","w":"48","s":"R"},{"c":"Veszprém","w":"49","s":"R"},{"c":"Veszprém","w":"50","s":"O"},{"c":"Veszprém","w":"51","s":"O"},{"c":"Veszprém","w":"52","s":"O"},{"c":"Veszprém","w":"1","s":"O"},{"c":"Veszprém","w":"2","s":"O"},{"c":"Veszprém","w":"3","s":"Y"},{"c":"Veszprém","w":"4","s":"Y"},{"c":"Veszprém","w":"5","s":"Y"},{"c":"Veszprém","w":"6","s":"Y"},{"c":"Veszprém","w":"7","s":"Y"},{"c":"Veszprém","w":"8","s":"Y"},{"c":"Veszprém","w":"9","s":"Y"},{"c":"Veszprém","w":"10","s":"G"},{"c":"Veszprém","w":"11","s":"G"},{"c":"Veszprém","w":"12","s":"G"},{"c":"Veszprém","w":"13","s":"G"},{"c":"Veszprém","w":"14","s":"G"},{"c":"Veszprém","w":"15","s":"G"},{"c":"Veszprém","w":"16","s":"G"},{"c":"Veszprém","w":"17","s":"G"},{"c":"Veszprém","w":"18","s":"G"},{"c":"Veszprém","w":"19","s":"G"},{"c":"Veszprém","w":"20","s":"G"},{"c":"Veszprém","w":"21","s":"G"},{"c":"Veszprém","w":"22","s":"G"},{"c":"Veszprém","w":"23","s":"G"},{"c":"Veszprém","w":"24","s":"G"},{"c":"Veszprém","w":"25","s":"G"},{"c":"Veszprém","w":"26","s":"G"},{"c":"Veszprém","w":"27","s":"G"},{"c":"Veszprém","w":"28","s":"G"},{"c":"Veszprém","w":"29","s":"G"},{"c":"Veszprém","w":"30","s":"G"},{"c":"Veszprém","w":"31","s":"G"},{"c":"Veszprém","w":"32","s":"Y"},{"c":"Veszprém","w":"33","s":"Y"},{"c":"Veszprém","w":"34","s":"Y"},{"c":"Veszprém","w":"35","s":"Y"},
{"c":"Zalaegerszeg","w":"36","s":"O"},{"c":"Zalaegerszeg","w":"37","s":"O"},{"c":"Zalaegerszeg","w":"38","s":"O"},{"c":"Zalaegerszeg","w":"39","s":"O"},{"c":"Zalaegerszeg","w":"40","s":"O"},{"c":"Zalaegerszeg","w":"41","s":"O"},{"c":"Zalaegerszeg","w":"42","s":"O"},{"c":"Zalaegerszeg","w":"43","s":"O"},{"c":"Zalaegerszeg","w":"44","s":"O"},{"c":"Zalaegerszeg","w":"45","s":"O"},{"c":"Zalaegerszeg","w":"46","s":"O"},{"c":"Zalaegerszeg","w":"47","s":"O"},{"c":"Zalaegerszeg","w":"48","s":"O"},{"c":"Zalaegerszeg","w":"49","s":"O"},{"c":"Zalaegerszeg","w":"50","s":"R"},{"c":"Zalaegerszeg","w":"51","s":"R"},{"c":"Zalaegerszeg","w":"52","s":"O"},{"c":"Zalaegerszeg","w":"1","s":"O"},{"c":"Zalaegerszeg","w":"2","s":"O"},{"c":"Zalaegerszeg","w":"3","s":"O"},{"c":"Zalaegerszeg","w":"4","s":"O"},{"c":"Zalaegerszeg","w":"5","s":"O"},{"c":"Zalaegerszeg","w":"6","s":"Y"},{"c":"Zalaegerszeg","w":"7","s":"Y"},{"c":"Zalaegerszeg","w":"8","s":"Y"},{"c":"Zalaegerszeg","w":"9","s":"G"},{"c":"Zalaegerszeg","w":"10","s":"G"},{"c":"Zalaegerszeg","w":"11","s":"G"},{"c":"Zalaegerszeg","w":"12","s":"G"},{"c":"Zalaegerszeg","w":"13","s":"G"},{"c":"Zalaegerszeg","w":"14","s":"G"},{"c":"Zalaegerszeg","w":"15","s":"G"},{"c":"Zalaegerszeg","w":"16","s":"G"},{"c":"Zalaegerszeg","w":"17","s":"G"},{"c":"Zalaegerszeg","w":"18","s":"G"},{"c":"Zalaegerszeg","w":"19","s":"G"},{"c":"Zalaegerszeg","w":"20","s":"Y"},{"c":"Zalaegerszeg","w":"21","s":"Y"},{"c":"Zalaegerszeg","w":"22","s":"G"},{"c":"Zalaegerszeg","w":"23","s":"G"},{"c":"Zalaegerszeg","w":"24","s":"G"},{"c":"Zalaegerszeg","w":"25","s":"G"},{"c":"Zalaegerszeg","w":"26","s":"G"},{"c":"Zalaegerszeg","w":"27","s":"G"},{"c":"Zalaegerszeg","w":"28","s":"G"},{"c":"Zalaegerszeg","w":"29","s":"G"},{"c":"Zalaegerszeg","w":"30","s":"Y"},{"c":"Zalaegerszeg","w":"31","s":"Y"},{"c":"Zalaegerszeg","w":"32","s":"G"},{"c":"Zalaegerszeg","w":"33","s":"G"},{"c":"Zalaegerszeg","w":"34","s":"Y"},{"c":"Zalaegerszeg","w":"35","s":"Y"}
]},
"hconcat":[
{"width":88,"height":480,"data":{"name":"rows"},
 "layer":[
  {"mark":{"type":"rect","fill":"white","stroke":"black","strokeWidth":1},
   "encoding":{"y":{"field":"r","type":"nominal","axis":null,"scale":{"domain":["év","hét","Békéscsaba","Budapest-É","Budapest-D","Budapest-KP","Budapest aggl.","Debrecen","Eger","Győr","Kaposvár","Kecskemét","Miskolc","Nyíregyháza","Pécs","Salgótarján","Szeged","Székesfehérvár","Szekszárd","Szolnok","Szombathely","Tatabánya","Veszprém","Zalaegerszeg"],"paddingInner":0,"paddingOuter":0}}}},
  {"mark":{"type":"text","fontWeight":"bold","fontSize":9.5,"color":"black"},
   "encoding":{"y":{"field":"r","type":"nominal","axis":null,"scale":{"domain":["év","hét","Békéscsaba","Budapest-É","Budapest-D","Budapest-KP","Budapest aggl.","Debrecen","Eger","Győr","Kaposvár","Kecskemét","Miskolc","Nyíregyháza","Pécs","Salgótarján","Szeged","Székesfehérvár","Szekszárd","Szolnok","Szombathely","Tatabánya","Veszprém","Zalaegerszeg"],"paddingInner":0,"paddingOuter":0}},"text":{"field":"r"}}}
 ]},
{"width":988,"height":480,
 "layer":[
  {"data":{"name":"years"},"mark":{"type":"rect","fill":"white","stroke":"black","strokeWidth":1},
   "encoding":{
    "x":{"field":"from","type":"nominal","bandPosition":0,"axis":null,"scale":{"domain":["36","37","38","39","40","41","42","43","44","45","46","47","48","49","50","51","52","1","2","3","4","5","6","7","8","9","10","11","12","13","14","15","16","17","18","19","20","21","22","23","24","25","26","27","28","29","30","31","32","33","34","35"],"paddingInner":0,"paddingOuter":0}},
    "x2":{"field":"to","bandPosition":1},
    "y":{"field":"r","type":"nominal","axis":null,"scale":{"domain":["év","hét","Békéscsaba","Budapest-É","Budapest-D","Budapest-KP","Budapest aggl.","Debrecen","Eger","Győr","Kaposvár","Kecskemét","Miskolc","Nyíregyháza","Pécs","Salgótarján","Szeged","Székesfehérvár","Szekszárd","Szolnok","Szombathely","Tatabánya","Veszprém","Zalaegerszeg"],"paddingInner":0,"paddingOuter":0}}}},
  {"data":{"name":"years"},"mark":{"type":"text","fontWeight":"bold","fontSize":10.5,"color":"black"},
   "encoding":{
    "x":{"field":"mid","type":"nominal","axis":null},
    "y":{"field":"r","type":"nominal","axis":null},
    "text":{"field":"yr"}}},
  {"data":{"name":"weeks"},"mark":{"type":"rect","fill":"white","stroke":"black","strokeWidth":1},
   "encoding":{"x":{"field":"w","type":"nominal","axis":null},"y":{"field":"r","type":"nominal","axis":null}}},
  {"data":{"name":"weeks"},"mark":{"type":"text","fontWeight":"bold","fontSize":10.5,"color":"black"},
   "encoding":{"x":{"field":"w","type":"nominal","axis":null},"y":{"field":"r","type":"nominal","axis":null},"text":{"field":"w"}}},
  {"data":{"name":"cells"},"mark":{"type":"rect","stroke":"black","strokeWidth":1},
   "encoding":{"x":{"field":"w","type":"nominal","axis":null},"y":{"field":"c","type":"nominal","axis":null},
    "fill":{"field":"s","type":"nominal","legend":null,"scale":{"domain":["R","O","Y","G"],"range":["#FF0000","#FFC000","#FFFF00","#92D050"]}}}}
 ]}
]
}
